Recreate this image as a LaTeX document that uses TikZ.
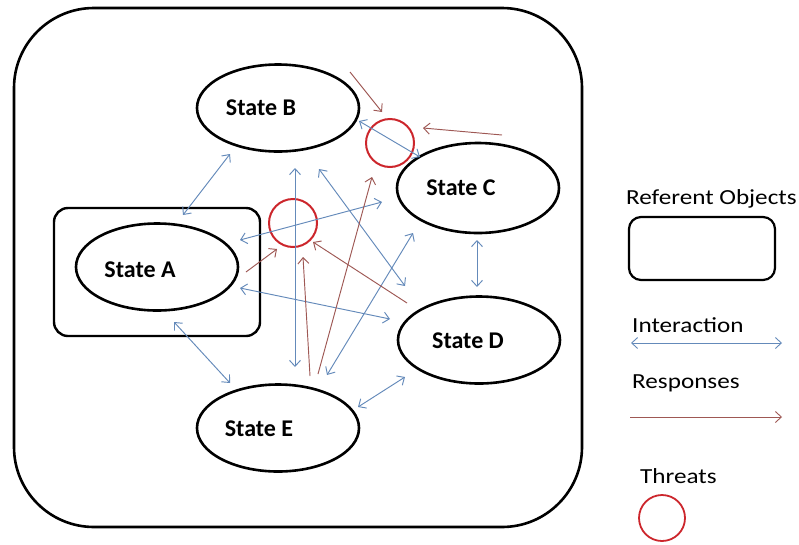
\documentclass[tikz,border=0pt]{standalone}
\usepackage{fontspec}
\setmainfont{Carlito}
\newfontfamily\legendfont[FakeStretch=1.17]{Carlito}
\usetikzlibrary{arrows.meta,shapes.geometric}

\definecolor{interblue}{RGB}{100,138,186}
\definecolor{resbrown}{RGB}{158,88,84}
\definecolor{threatred}{RGB}{204,38,44}

\tikzset{
  statebox/.style={draw=black, line width=2.6pt, ellipse, inner sep=0pt,
    minimum width=162pt, minimum height=87pt},
  statetext/.style={anchor=base, font=\fontsize{24}{26}\selectfont\bfseries, inner sep=0pt},
  legendtext/.style={anchor=base west, font=\legendfont\fontsize{21.5}{24}\selectfont, inner sep=0pt},
  refbox/.style={draw=black, line width=2.4pt, rounded corners=14pt},
  threat/.style={draw=threatred, line width=2pt, circle, inner sep=0pt, minimum size=48pt},
  interaction/.style={draw=interblue, line width=0.95pt,
    {Straight Barb[length=6pt,width=11pt]}-{Straight Barb[length=6pt,width=11pt]}},
  response/.style={draw=resbrown, line width=0.95pt,
    -{Straight Barb[length=6pt,width=11pt]}},
}

\begin{document}
\begin{tikzpicture}[x=1pt,y=-1pt]
  \useasboundingbox (0,0) rectangle (799,544);

  % outer system boundary
  \draw[draw=black, line width=2.6pt, rounded corners=80pt] (14,8) rectangle (582,527);

  % referent object around State A
  \draw[refbox] (54,208) rectangle (260,336);

  % states
  \node[statebox] (A) at (157,267) {};
  \node[statebox] (B) at (278,108) {};
  \node[statebox, minimum height=90pt] (C) at (478,188) {};
  \node[statebox] (D) at (479,340) {};
  \node[statebox] (E) at (278,428) {};

  \node[statetext] (Atext) at (140,277) {State A};
  \node[statetext] (Btext) at (261,115) {State B};
  \node[statetext] (Ctext) at (461,195) {State C};
  \node[statetext] (Dtext) at (468,348) {State D};
  \node[statetext] (Etext) at (259,436) {State E};

  % threats
  \node[threat] (T1) at (390,143) {};
  \node[threat] (T2) at (293,223) {};

  % connector end points
  \coordinate (i1a) at (230,154); \coordinate (i1b) at (183,215);
  \coordinate (i2a) at (359,121); \coordinate (i2b) at (420,157);
  \coordinate (i3a) at (295,168); \coordinate (i3b) at (295,367);
  \coordinate (i4a) at (319,169); \coordinate (i4b) at (405,286);
  \coordinate (i5a) at (240,240); \coordinate (i5b) at (382,202);
  \coordinate (i6a) at (240,288); \coordinate (i6b) at (390,319);
  \coordinate (i7a) at (327,375); \coordinate (i7b) at (413,233);
  \coordinate (i8a) at (174,322); \coordinate (i8b) at (230,383);
  \coordinate (i9a) at (358,407); \coordinate (i9b) at (405,377);
  \coordinate (i10a) at (477,240); \coordinate (i10b) at (477,287);

  \coordinate (r1a) at (350,72);  \coordinate (r1b) at (382,112);
  \coordinate (r2a) at (502,135); \coordinate (r2b) at (423,128);
  \coordinate (r3a) at (246,272); \coordinate (r3b) at (277,249);
  \coordinate (r4a) at (310,376); \coordinate (r4b) at (303,257);
  \coordinate (r5a) at (318,374); \coordinate (r5b) at (372,177);
  \coordinate (r6a) at (407,303); \coordinate (r6b) at (313,242);

  % interactions between states
  \draw[interaction] (i1a) -- (i1b);
  \draw[interaction] (i2a) -- (i2b);
  \draw[interaction] (i3a) -- (i3b);
  \draw[interaction] (i4a) -- (i4b);
  \draw[interaction] (i5a) -- (i5b);
  \draw[interaction] (i6a) -- (i6b);
  \draw[interaction] (i7a) -- (i7b);
  \draw[interaction] (i8a) -- (i8b);
  \draw[interaction] (i9a) -- (i9b);
  \draw[interaction] (i10a) -- (i10b);

  % responses to threats
  \draw[response] (r1a) -- (r1b);
  \draw[response] (r2a) -- (r2b);
  \draw[response] (r3a) -- (r3b);
  \draw[response] (r4a) -- (r4b);
  \draw[response] (r5a) -- (r5b);
  \draw[response] (r6a) -- (r6b);

  % legend
  \node[legendtext] (Lref) at (626,204) {Referent Objects};
  \draw[refbox, line width=2.2pt, rounded corners=12pt] (629,217) rectangle (775,280);
  \node[legendtext] (Lint) at (632,332) {Interaction};
  \coordinate (Li1) at (631,343); \coordinate (Li2) at (782,343);
  \draw[interaction, line width=0.9pt] (Li1) -- (Li2);
  \node[legendtext] (Lres) at (632,388) {Responses};
  \coordinate (Lr1) at (630,417); \coordinate (Lr2) at (782,417);
  \draw[response, line width=0.9pt] (Lr1) -- (Lr2);
  \node[legendtext] (Lthr) at (640,483) {Threats};
  \node[threat, minimum size=46pt, line width=1.8pt] (LT) at (662,518) {};
\end{tikzpicture}
\end{document}
